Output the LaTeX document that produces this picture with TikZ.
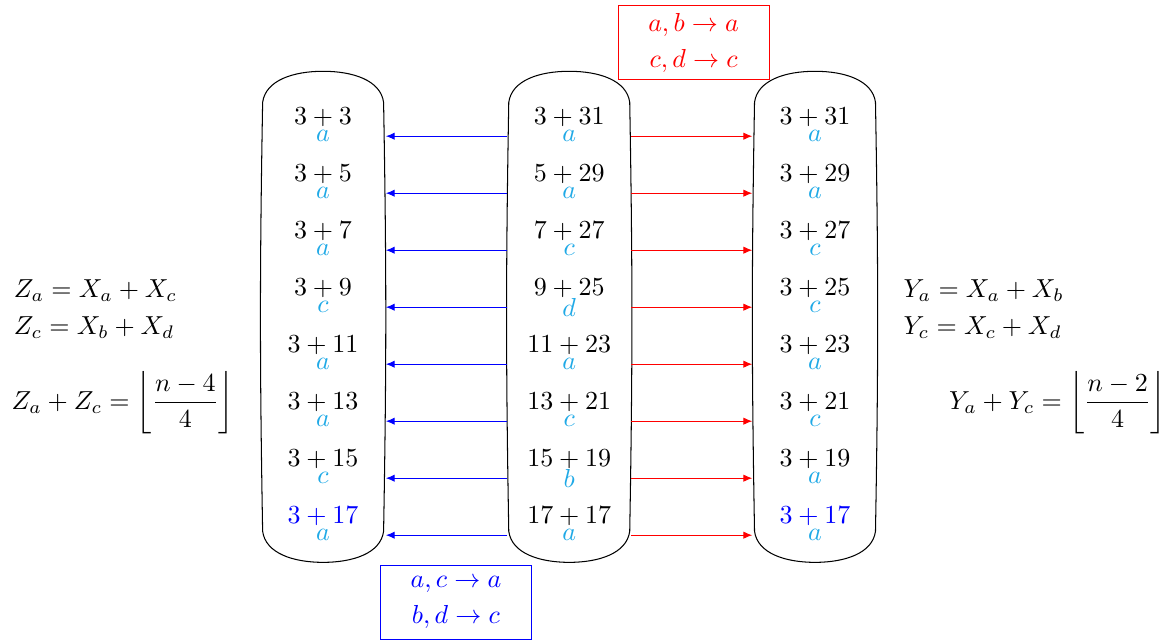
\documentclass[tikz,border=0pt]{standalone}
\usepackage{amsmath,xcolor}
\usetikzlibrary{positioning,arrows.meta,calc}
\definecolor{tag}{HTML}{1FA9E6}
\tikzset{
  colbox/.style={minimum width=16.2mm,minimum height=66.2mm,inner sep=0pt},
  sum/.style={inner sep=1pt,font=\normalsize},
  tagl/.style={inner sep=0pt,text=tag},
  redrule/.style={draw=red,text=red,align=center,minimum width=20.4mm,minimum height=10mm,inner sep=2pt},
  bluerule/.style={draw=blue,text=blue,align=center,minimum width=20.4mm,minimum height=10mm,inner sep=2pt},
  eq/.style={inner sep=0pt},
  redflow/.style={-{Latex[length=1.2mm,width=1mm]},draw=red},
  blueflow/.style={-{Latex[length=1.2mm,width=1mm]},draw=blue}}
\newcommand\colshape[1]{%
  \draw (#1.north) .. controls +(-0.4,0) and +(0.04,0.3) .. ([yshift=-4.2mm]#1.north west)
    to[bend right=1] ([yshift=4.2mm]#1.south west)
    .. controls +(0.04,-0.3) and +(-0.4,0) .. (#1.south)
    .. controls +(0.4,0) and +(-0.04,-0.3) .. ([yshift=4.2mm]#1.south east)
    to[bend right=1] ([yshift=-4.2mm]#1.north east)
    .. controls +(-0.04,0.3) and +(0.4,0) .. (#1.north) -- cycle;}
\begin{document}
\begin{tikzpicture}
  \useasboundingbox (0,0) rectangle (15.86,8.66);
  % the three columns
  \node[colbox] (colL) at (4.365,4.38) {};
  \node[colbox] (colM) at (7.69,4.38) {};
  \node[colbox] (colR) at (11.01,4.38) {};
  \colshape{colL}
  \colshape{colM}
  \colshape{colR}
  \foreach \i/\lt/\ll/\mt/\ml/\rt/\rl in {%
      1/3+3/a/3+31/a/3+31/a,
      2/3+5/a/5+29/a/3+29/a,
      3/3+7/a/7+27/c/3+27/c,
      4/3+9/c/9+25/d/3+25/c,
      5/3+11/a/11+23/a/3+23/a,
      6/3+13/a/13+21/c/3+21/c,
      7/3+15/c/15+19/b/3+19/a,
      8/\textcolor{blue}{3+17}/a/17+17/a/\textcolor{blue}{3+17}/a}{
    \pgfmathsetmacro\y{7.08-0.77*(\i-1)}
    \node[sum] (l\i) at (4.365,\y) {$\lt$};
    \node[sum] (m\i) at (7.69,\y) {$\mt$};
    \node[sum] (r\i) at (11.01,\y) {$\rt$};
    \node[tagl] (la\i) at (4.365,\y-0.26) {$\ll$};
    \node[tagl] (ma\i) at (7.69,\y-0.26) {$\ml$};
    \node[tagl] (ra\i) at (11.01,\y-0.26) {$\rl$};
    \draw[blueflow] ([xshift=-0.2mm]ma\i -| colM.west) -- ([xshift=0.3mm]la\i -| colL.east);
    \draw[redflow] ([xshift=0.2mm]ma\i -| colM.east) -- ([xshift=-0.3mm]ra\i -| colR.west);
  }
  % the merge rules
  \node[redrule] (rr) at (9.37,8.08) {$a,b\to a$\\[2pt]$c,d\to c$};
  \node[bluerule] (br) at (6.16,0.52) {$a,c\to a$\\[2pt]$b,d\to c$};
  % counts on both sides
  \node[eq,anchor=west] (za) at (0.18,4.74) {$Z_a=X_a+X_c$};
  \node[eq,anchor=west] (zc) at (0.18,4.24) {$Z_c=X_b+X_d$};
  \node[eq,anchor=west] (zs) at (0.15,3.22) {$\displaystyle Z_a+Z_c=\left\lfloor\frac{n-4}{4}\right\rfloor$};
  \node[eq,anchor=west] (ya) at (12.2,4.74) {$Y_a=X_a+X_b$};
  \node[eq,anchor=west] (yc) at (12.2,4.24) {$Y_c=X_c+X_d$};
  \node[eq,anchor=east] (ys) at (15.76,3.22) {$\displaystyle Y_a+Y_c=\left\lfloor\frac{n-2}{4}\right\rfloor$};
\end{tikzpicture}
\end{document}
